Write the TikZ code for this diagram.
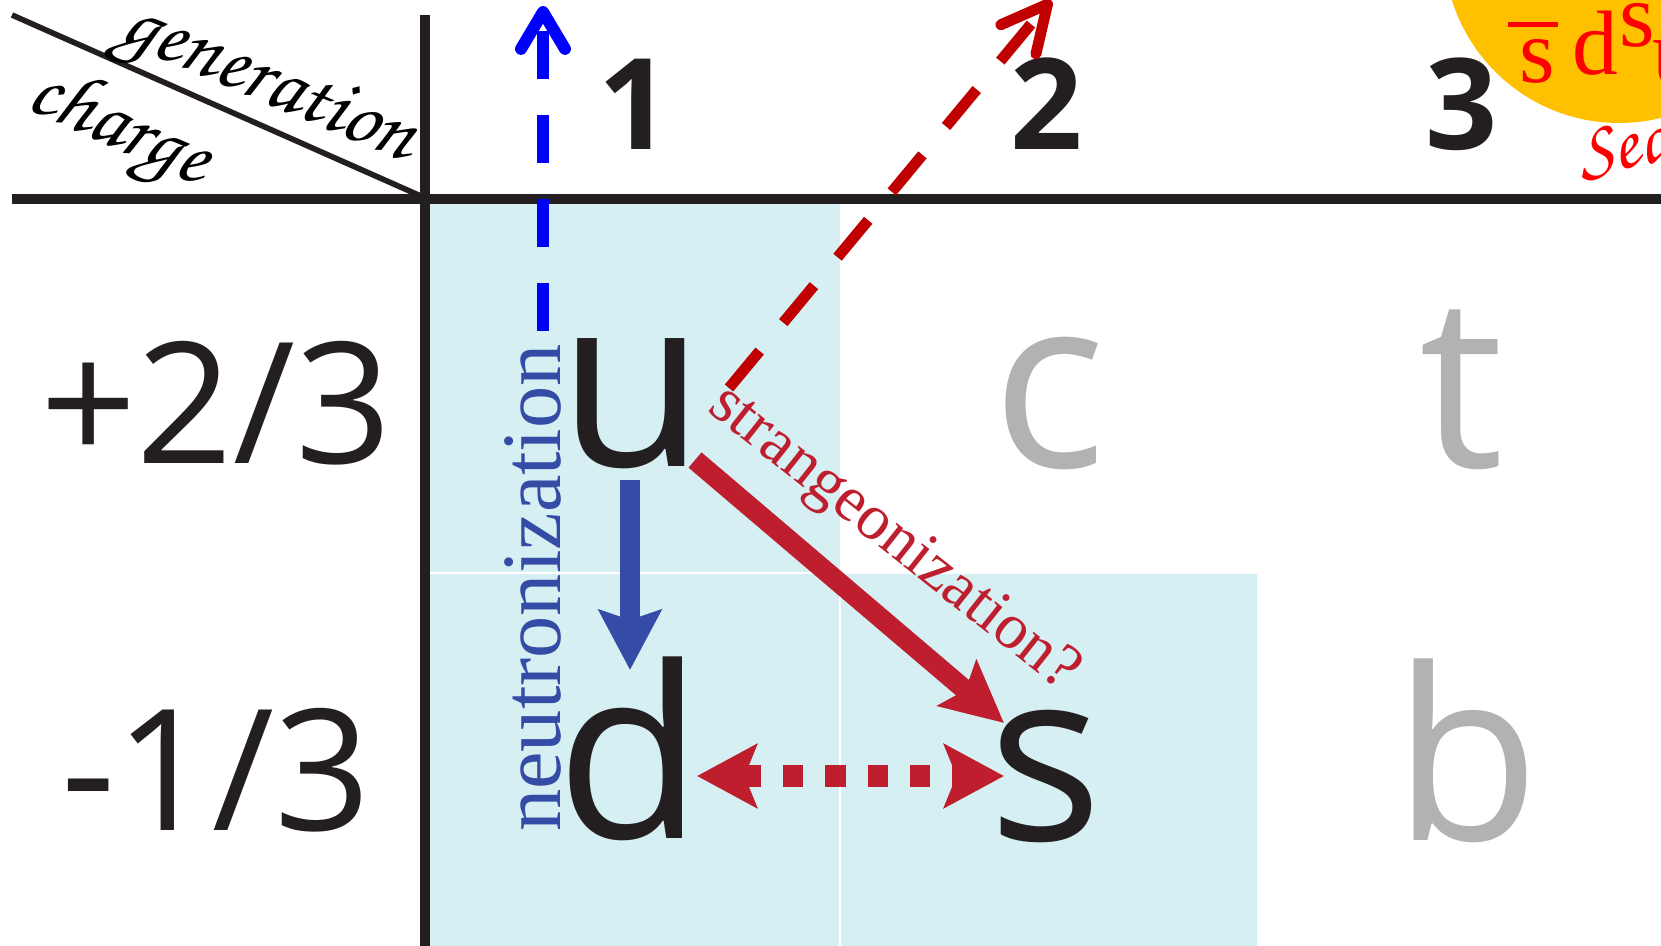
\documentclass[tikz,border=0pt]{standalone}
\usepackage[T1,TU]{fontenc}
\usepackage{fontspec}
\setmainfont{Liberation Serif}
\newfontfamily\osans{Open Sans}
\usetikzlibrary{arrows.meta,calc}
\definecolor{ink}{RGB}{35,31,32}
\definecolor{cellblue}{RGB}{213,239,242}
\definecolor{qgray}{RGB}{178,178,178}
\definecolor{nblue}{RGB}{52,76,165}
\definecolor{sred}{RGB}{190,30,45}
\definecolor{dred}{RGB}{192,0,0}
\definecolor{sun}{RGB}{255,192,0}
\newcommand\zapf{\fontencoding{T1}\fontfamily{pzc}\fontseries{mb}\fontshape{it}\selectfont}
\tikzset{
  hd/.style={font=\osans\bfseries\fontsize{36}{36}\selectfont, text=ink, anchor=base},
  chg/.style={font=\osans\fontsize{48}{48}\selectfont, text=ink, anchor=base},
  qk/.style={font=\osans\fontsize{68}{68}\selectfont, text=ink, anchor=base},
  qkg/.style={qk, text=qgray},
  scr/.style={font=\zapf\fontsize{24}{24}\selectfont, text=black},
  suntxt/.style={font=\fontsize{26}{26}\selectfont, text=red, anchor=base},
  rule/.style={ink, line width=2.85pt},
  dashblue/.style={blue, line width=3.4pt, dash pattern=on 13.66pt off 10.24pt,
     -{Straight Barb[length=10.5pt,width=12.5pt,round]}},
  dashred/.style={dred, line width=3.1pt, dash pattern=on 13.66pt off 10.5pt,
     -{Straight Barb[length=13pt,width=13pt,round]}},
  solidblue/.style={nblue, line width=5.7pt, -{Stealth[length=17pt,width=17.6pt,inset=2.8pt]}},
  solidred/.style={sred, line width=5.7pt, -{Stealth[length=17.4pt,width=16.8pt,inset=3pt]}},
  dotred/.style={sred, line width=6.3pt, dash pattern=on 5.7pt off 6.3pt,
     {Stealth[length=17pt,width=18pt,inset=3.5pt]}-{Stealth[length=17pt,width=18pt,inset=3.5pt]}}
}
\begin{document}
\begin{tikzpicture}[x=0.01cm,y=-0.01cm, every node/.style={inner sep=0pt, outer sep=0pt}]
\useasboundingbox (0,0) rectangle (1661,946);
\clip (0,0) rectangle (1661,946);
\fill[white] (0,0) rectangle (1661,946);
% shaded cells
\fill[cellblue] (430,204) rectangle (840,946);
\fill[cellblue] (840,574) rectangle (1257,946);
\draw[white, line width=0.5pt] (430,573) -- (840,573);
\draw[white, line width=0.4pt] (840,574) -- (840,946);
% sun
\fill[sun] (1619,-52) circle[radius=175];
% table rules
\draw[rule] (12,199) -- (1661,199);
\draw[rule] (425,15) -- (425,946);
\draw[ink, line width=1.6pt] (12,15) -- (423,197);
% corner labels
\node[scr, rotate=-23] (gen) at (266,89) {generation};
\node[scr, rotate=-24] (chgl) at (118,131) {charge};
% generation headers
\node[hd] (g1) at (635,150) {1};
\node[hd] (g2) at (1047,150) {2};
\node[hd] (g3) at (1462,150) {3};
% charges
\node[chg] (p23) at (216,463) {+2/3};
\node[chg] (m13) at (216,830) {-1/3};
% quarks
\node[qk] (u) at (632,466) {u};
\node[qkg] (c) at (1049,468) {c};
\node[qkg] (t) at (1462,468) {t};
\node[qk] (d) at (630,838) {d};
\node[qk] (s) at (1046,840) {s};
\node[qkg] (b) at (1467,840) {b};
% sun text
\node[suntxt] (sbar) at (1537,83) {s};
\draw[red, line width=1.4pt] ($(sbar.base)+(-29,-58.5)$) -- ++(50,0);
\node[suntxt] (sd) at (1595,75) {d};
\node[suntxt] (ss) at (1637,47) {s};
\node[suntxt, anchor=base west] (su) at (1652,83) {u};
\node[scr, font=\zapf\fontsize{22}{22}\selectfont, text=red, rotate=12, anchor=base west] (sea) at (1582,178) {Sea};
% labels
\node[font=\fontsize{24}{24}\selectfont, text=nblue, rotate=90, anchor=base] (neu) at (560,588) {neutronization};
\node[font=\fontsize{18.3}{18.3}\selectfont, text=sred, rotate=-38.4] (str) at (893,540) {strangeonization?};
% arrows
\coordinate (btop) at (543,6);
\coordinate (rtop) at (1051,0);
\draw[dashblue] ($(u.base)+(-89,-135)$) -- (btop);
\draw[dashred] ($(u.base)+(97,-78)$) -- (rtop);
\draw[solidblue] ($(u.base)+(-2,14)$) -- ($(d.base)+(0,-168)$);
\draw[solidred] ($(u.base)+(63,-6)$) -- ($(s.base)+(-42,-117)$);
\draw[dotred] ($(d.base)+(67,-62)$) -- ($(s.base)+(-42,-64)$);
\end{tikzpicture}
\end{document}
